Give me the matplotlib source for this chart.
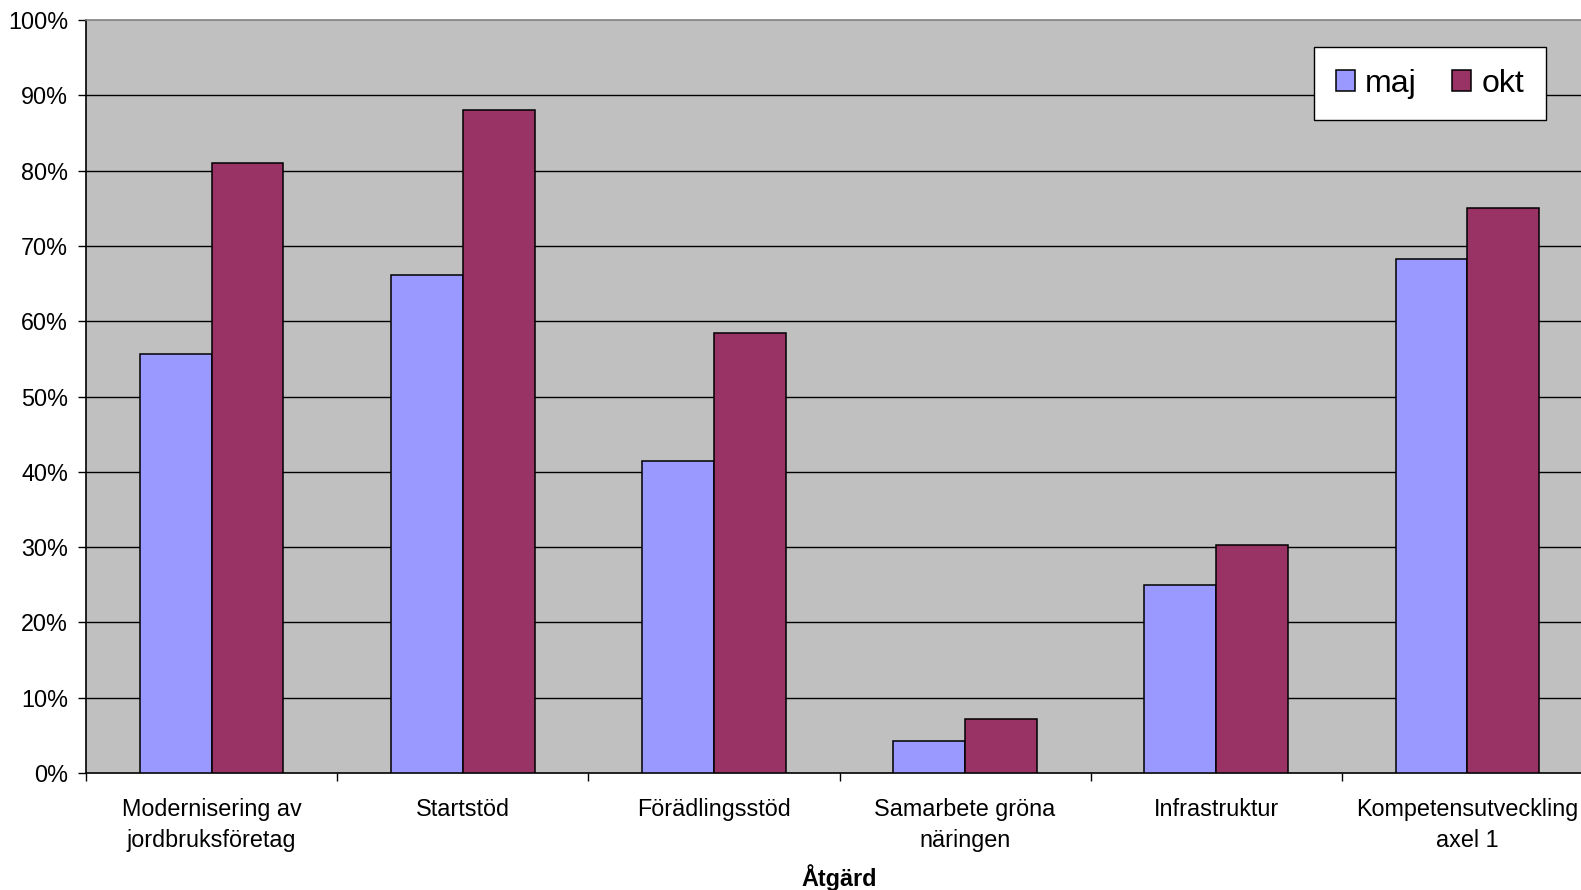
import matplotlib.pyplot as plt
import numpy as np
from matplotlib.patches import Rectangle

# data
kategorier = ['Modernisering av\njordbruksföretag', 'Startstöd', 'Förädlingsstöd',
              'Samarbete gröna\nnäringen', 'Infrastruktur', 'Kompetensutveckling\naxel 1']
maj = [55.7, 66.1, 41.5, 4.2, 25.0, 68.3]
okt = [81.0, 88.1, 58.4, 7.2, 30.3, 75.0]
serier = ['maj', 'okt']
farger = ['#9999FF', '#993366']

plt.rcParams['font.family'] = ['Liberation Sans', 'DejaVu Sans']

W, H = 1581, 890
fig = plt.figure(figsize=(W / 100, H / 100), dpi=100)
# plot area runs past the right edge like in the original
ax = fig.add_axes([86 / W, (H - 773) / H, 1507 / W, 753 / H])
ax.set_facecolor('#C0C0C0')

x = np.arange(len(kategorier))
b = 0.286
ax.bar(x - b / 2, maj, b, color=farger[0], edgecolor='black', linewidth=1.1, zorder=3)
ax.bar(x + b / 2, okt, b, color=farger[1], edgecolor='black', linewidth=1.1, zorder=3)

ax.set_xlim(-0.5, len(kategorier) - 0.5)
ax.set_ylim(0, 100)

ax.set_yticks(np.arange(0, 101, 10))
ax.set_yticklabels([f'{v}%' for v in range(0, 101, 10)], fontsize=16.8)
for v in range(10, 100, 10):
    ax.axhline(v, color='black', linewidth=1.0, zorder=1)

# ticks between categories, labels in the middle
ax.set_xticks(np.arange(-0.5, len(kategorier), 1.0))
ax.set_xticklabels([])
ax.set_xticks(x, minor=True)
ax.set_xticklabels(kategorier, minor=True, fontsize=16.8, linespacing=1.42)
ax.tick_params(axis='x', which='minor', length=0, pad=18)
ax.tick_params(axis='x', which='major', length=6, width=1, direction='out')
ax.tick_params(axis='y', length=6, width=1, direction='out', pad=7)

for s in ['left', 'bottom']:
    ax.spines[s].set_color('black')
    ax.spines[s].set_linewidth(1.2)
ax.spines['top'].set_color('#808080')
ax.spines['top'].set_linewidth(1.2)
ax.spines['right'].set_visible(False)

ax.set_xlabel('Åtgärd', fontsize=16.8, fontweight='bold', labelpad=9)

handles = [Rectangle((0, 0), 1, 1, facecolor=c, edgecolor='black', linewidth=1.1) for c in farger]
leg = ax.legend(handles, serier, ncol=2, loc='upper right',
                bbox_to_anchor=(1546 / W, 1 - 47 / H), bbox_transform=fig.transFigure,
                fontsize=23, fancybox=False, framealpha=1, edgecolor='black',
                handlelength=0.6, handleheight=0.6, handletextpad=0.32,
                columnspacing=1.1, borderpad=0.68, borderaxespad=0)
leg.get_frame().set_linewidth(1.0)

fig.savefig('out.png', dpi=100)
